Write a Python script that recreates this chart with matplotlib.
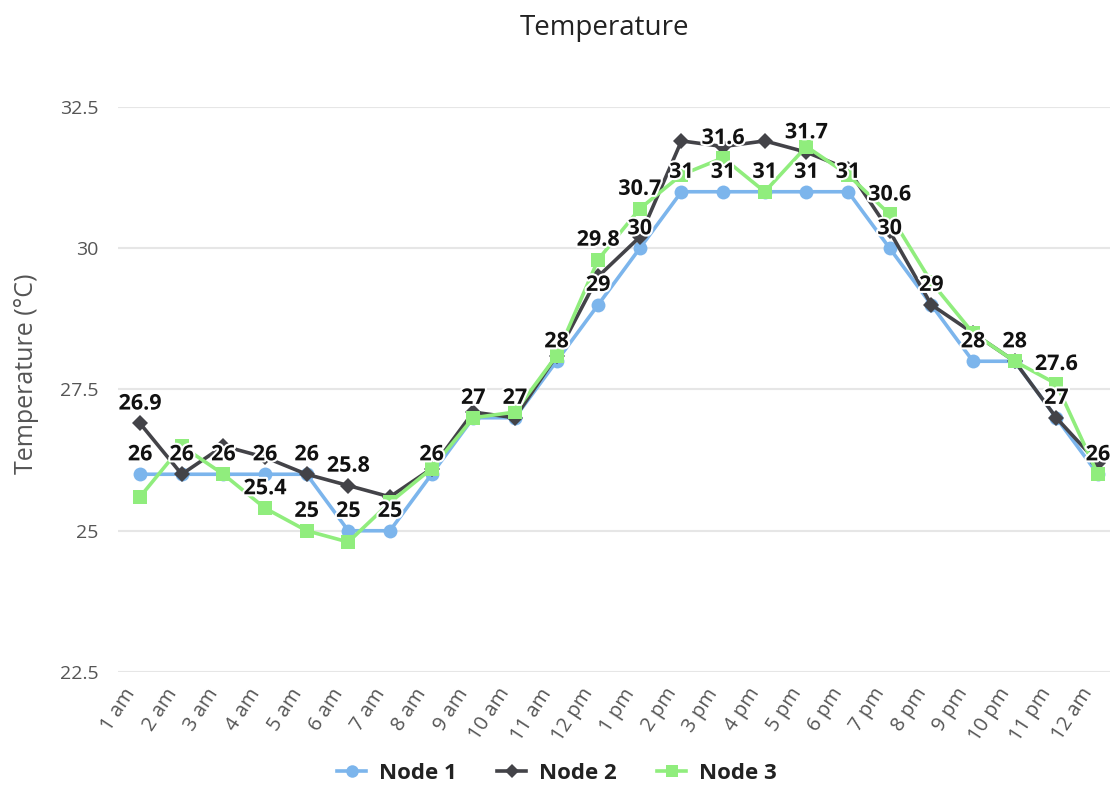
import matplotlib
matplotlib.use("Agg")
import matplotlib.pyplot as plt
import matplotlib.patheffects as pe
import matplotlib.transforms as mtransforms
from matplotlib.lines import Line2D

hours = ["1 am", "2 am", "3 am", "4 am", "5 am", "6 am", "7 am", "8 am", "9 am",
         "10 am", "11 am", "12 pm", "1 pm", "2 pm", "3 pm", "4 pm", "5 pm", "6 pm",
         "7 pm", "8 pm", "9 pm", "10 pm", "11 pm", "12 am"]

node1 = [26, 26, 26, 26, 26, 25, 25, 26, 27, 27, 28, 29, 30, 31, 31, 31, 31, 31,
         30, 29, 28, 28, 27, 26]
node2 = [26.9, 26.0, 26.5, 26.3, 26.0, 25.8, 25.6, 26.1, 27.1, 27.0, 28.1, 29.5,
         30.2, 31.9, 31.8, 31.9, 31.7, 31.4, 30.3, 29.0, 28.5, 28.0, 27.0, 26.2]
node3 = [25.6, 26.5, 26.0, 25.4, 25.0, 24.8, 25.5, 26.1, 27.0, 27.1, 28.1, 29.8,
         30.7, 31.3, 31.6, 31.0, 31.8, 31.3, 30.6, 29.4, 28.5, 28.0, 27.6, 26.0]

series_names = ["Node 1", "Node 2", "Node 3"]

# indices of the data labels that are visible (others hidden by overlap)
shown1 = [0, 1, 2, 3, 4, 5, 6, 7, 8, 9, 10, 11, 12, 13, 14, 15, 16, 17, 18, 19, 20, 21, 23]
shown2 = [0, 5, 16, 22]
shown3 = [3, 4, 11, 12, 14, 18, 22]

yticks = [22.5, 25, 27.5, 30, 32.5]

colors = ["#7cb5ec", "#434348", "#90ed7d"]
markers = ["o", "D", "s"]
msizes = [10, 8, 10]

plt.rcParams['font.family'] = ['Open Sans', 'DejaVu Sans']

fig = plt.figure(figsize=(11.1, 8), dpi=100)
ax = fig.add_axes([118 / 1110, 128 / 800, (1110 - 118) / 1110, (672 - 107) / 800])

x = list(range(len(hours)))
handles = []
for i, (vals, shown) in enumerate(zip([node1, node2, node3], [shown1, shown2, shown3])):
    ax.plot(x, vals, color=colors[i], lw=2.6, marker=markers[i], markersize=msizes[i],
            markeredgewidth=0, zorder=3 + i, clip_on=False)
    for j in shown:
        v = vals[j]
        txt = f"{v:g}"
        ax.annotate(txt, (x[j], v), xytext=(0, 10), textcoords="offset points",
                    ha="center", va="baseline", fontsize=15.5, fontweight="bold",
                    color="#111111", zorder=10,
                    path_effects=[pe.withStroke(linewidth=3, foreground="white")])
    handles.append(Line2D([], [], color=colors[i], lw=2.6, marker=markers[i],
                          markersize=msizes[i] * 0.9, markeredgewidth=0))

ax.set_xlim(-0.53, 23.29)
ax.set_ylim(22.5, 32.5)
ax.set_yticks(yticks)
ax.set_yticklabels([f"{t:g}" for t in yticks], fontsize=14, color="#555555")
ax.set_xticks(x)
ax.set_xticklabels([])
# category labels, rotated, right end placed just left of each tick
lbl_trans = (mtransforms.blended_transform_factory(ax.transData, ax.transAxes)
             + mtransforms.ScaledTranslation(-9 / 100, -18 / 100, fig.dpi_scale_trans))
for xi, h in zip(x, hours):
    ax.text(xi, 0, h, transform=lbl_trans, rotation=57, ha="right", va="center",
            rotation_mode="anchor", fontsize=14.5, color="#555555", clip_on=False)
ax.tick_params(axis="both", length=0)
ax.tick_params(axis="y", pad=14)
ax.grid(axis="y", color="#e6e6e6", lw=1.5)
ax.set_axisbelow(True)
for s in ["top", "right", "left", "bottom"]:
    ax.spines[s].set_visible(False)

ax.set_ylabel("Temperature (°C)", fontsize=18, color="#555555")
ax.yaxis.set_label_coords(-0.080, 0.527)
fig.text(0.545, 0.965, "Temperature", ha="center", va="center", fontsize=20, color="#222222")

fig.legend(handles, series_names, loc="lower center", bbox_to_anchor=(0.502, -0.005),
           ncol=3, frameon=False, prop={"size": 16, "weight": "bold"},
           handlelength=1.3, handletextpad=0.6, columnspacing=1.8, labelcolor="#222222")

fig.savefig("out.png", dpi=100, facecolor="white")
